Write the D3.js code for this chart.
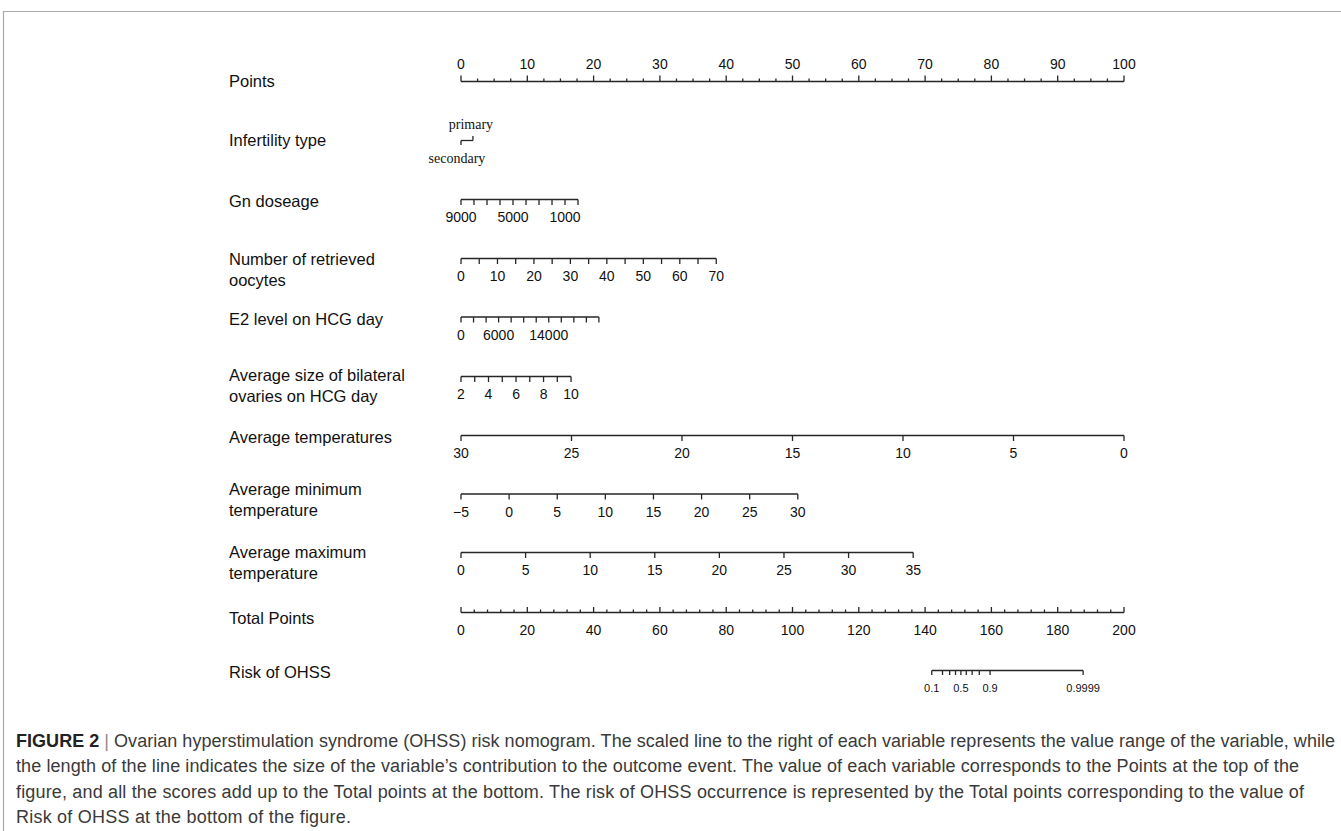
<!DOCTYPE html>
<html>
<head>
<meta charset="utf-8">
<script src="https://cdn.jsdelivr.net/npm/d3@7"></script>
<style>
  html, body { margin: 0; padding: 0; background: #fff; }
  svg { display: block; }
</style>
</head>
<body>
<svg id="chart" width="1341" height="831"></svg>
<script>
// ---- Nomogram data -------------------------------------------------------
const pointsMajor = [0, 10, 20, 30, 40, 50, 60, 70, 80, 90, 100];
const pointsMinorStep = 2.5;

const infertilityLevels = ["secondary", "primary"];
const infertilityPoints = [0, 1.8];

const gnTicks = [9000, 8000, 7000, 6000, 5000, 4000, 3000, 2000, 1000, 0];
const gnLabels = [9000, 5000, 1000];
const gnRange = [9000, 0];
const gnPoints = [0, 17.65];

const oocyteTicks = [0, 5, 10, 15, 20, 25, 30, 35, 40, 45, 50, 55, 60, 65, 70];
const oocyteLabels = [0, 10, 20, 30, 40, 50, 60, 70];
const oocyteRange = [0, 70];
const oocytePoints = [0, 38.5];

const e2Ticks = [0, 2000, 4000, 6000, 8000, 10000, 12000, 14000, 16000, 18000, 20000, 22000];
const e2Labels = [0, 6000, 14000];
const e2Range = [0, 22000];
const e2Points = [0, 20.8];

const ovaryTicks = [2, 3, 4, 5, 6, 7, 8, 9, 10];
const ovaryLabels = [2, 4, 6, 8, 10];
const ovaryRange = [2, 10];
const ovaryPoints = [0, 16.6];

const avgTempTicks = [30, 25, 20, 15, 10, 5, 0];
const avgTempRange = [30, 0];
const avgTempPoints = [0, 100];

const minTempTicks = [-5, 0, 5, 10, 15, 20, 25, 30];
const minTempRange = [-5, 30];
const minTempPoints = [0, 50.8];

const maxTempTicks = [0, 5, 10, 15, 20, 25, 30, 35];
const maxTempRange = [0, 35];
const maxTempPoints = [0, 68.2];

const totalMajor = [0, 20, 40, 60, 80, 100, 120, 140, 160, 180, 200];
const totalMinorStep = 4;

// logistic model: logit(risk) = slope * (total points - midpoint)
const riskTicks = [0.1, 0.2, 0.3, 0.4, 0.5, 0.6, 0.7, 0.8, 0.9, 0.9999];
const riskLabels = [0.1, 0.5, 0.9, 0.9999];
const riskSlope = 0.2498;
const riskMidpoint = 150.8;

const captionFirst = "Ovarian hyperstimulation syndrome (OHSS) risk nomogram. The scaled line to the right of each variable represents the value range of the variable, while";
const captionLines = [
  "the length of the line indicates the size of the variable\u2019s contribution to the outcome event. The value of each variable corresponds to the Points at the top of the",
  "figure, and all the scores add up to the Total points at the bottom. The risk of OHSS occurrence is represented by the Total points corresponding to the value of",
  "Risk of OHSS at the bottom of the figure."
];
// widths of the caption lines
const captionWidths = [1319, 1283, 1288, 335];

// ---- Layout ----------------------------------------------------------------
const svg = d3.select("#chart");
const X0 = 461, X1 = 1124;
const xPoints = d3.scaleLinear().domain([0, 100]).range([X0, X1]);
const xTotal = d3.scaleLinear().domain([0, 200]).range([X0, X1]);

const INK = "#262626";
const sans = "'Liberation Sans', Arial, Helvetica, sans-serif";
const serif = "'Liberation Serif', 'Times New Roman', serif";

// frame
svg.append("path")
  .attr("d", "M3.5,831 V11.5 H1341")
  .attr("fill", "none").attr("stroke", "#a9a9a9").attr("stroke-width", 1.2);

// variable names on the left
const rowLabels = [
  { y: 81, lines: ["Points"] },
  { y: 140, lines: ["Infertility type"] },
  { y: 201, lines: ["Gn doseage"] },
  { y: 259, lines: ["Number of retrieved", "oocytes"] },
  { y: 319, lines: ["E2 level on HCG day"] },
  { y: 375, lines: ["Average size of bilateral", "ovaries on HCG day"] },
  { y: 437, lines: ["Average temperatures"] },
  { y: 489, lines: ["Average minimum", "temperature"] },
  { y: 552, lines: ["Average maximum", "temperature"] },
  { y: 618, lines: ["Total Points"] },
  { y: 672, lines: ["Risk of OHSS"] }
];
rowLabels.forEach(r => {
  r.lines.forEach((t, i) => {
    svg.append("text")
      .attr("x", 229).attr("y", r.y + i * 21 + 6)
      .attr("font-family", sans).attr("font-size", 16.5).attr("fill", "#111")
      .text(t);
  });
});

function hline(g, xa, xb, y) {
  g.append("line").attr("x1", xa).attr("x2", xb).attr("y1", y).attr("y2", y)
    .attr("stroke", INK).attr("stroke-width", 1.3);
}
function tick(g, x, y, len) {
  g.append("line").attr("x1", x).attr("x2", x).attr("y1", y).attr("y2", y + len)
    .attr("stroke", INK).attr("stroke-width", 1.3);
}
function label(g, x, y, txt, size) {
  g.append("text").attr("x", x).attr("y", y).attr("text-anchor", "middle")
    .attr("font-family", sans).attr("font-size", size || 14).attr("fill", "#111")
    .text(txt);
}
const fmt = v => (v < 0 ? "\u2212" + Math.abs(v) : String(v));

// top Points scale (ticks point upward, labels above)
{
  const g = svg.append("g");
  const y = 81.5;
  hline(g, xPoints(0), xPoints(100), y);
  d3.range(0, 100 + 1e-9, pointsMinorStep).forEach(v => {
    const major = pointsMajor.includes(v);
    tick(g, xPoints(v), y, major ? -6 : -3);
  });
  pointsMajor.forEach(v => label(g, xPoints(v), y - 12.5, fmt(v)));
}

// Infertility type (two categories, labels alternating above / below)
{
  const g = svg.append("g");
  const y = 140.5;
  const xs = infertilityPoints.map(p => xPoints(p));
  hline(g, d3.min(xs), d3.max(xs), y);
  infertilityLevels.forEach((lev, i) => {
    const above = lev === "primary";
    tick(g, xs[i], y, above ? -4.5 : 4.5);
    g.append("text")
      .attr("x", xs[i] - (above ? 2 : 4)).attr("y", above ? y - 12 : y + 22)
      .attr("text-anchor", "middle")
      .attr("font-family", serif).attr("font-size", 14).attr("fill", "#111")
      .text(lev);
  });
}

// continuous predictors (ticks hanging down, labels below)
function predictor(y, ticks, labels, range, pts, labelFmt) {
  const s = d3.scaleLinear().domain(range).range(pts);
  const g = svg.append("g");
  const xs = ticks.map(v => xPoints(s(v)));
  hline(g, d3.min(xs), d3.max(xs), y);
  ticks.forEach(v => tick(g, xPoints(s(v)), y, 5.5));
  labels.forEach(v => label(g, xPoints(s(v)), y + 22.5, (labelFmt || fmt)(v)));
}
predictor(199.5, gnTicks, gnLabels, gnRange, gnPoints);
predictor(258.5, oocyteTicks, oocyteLabels, oocyteRange, oocytePoints);
predictor(317, e2Ticks, e2Labels, e2Range, e2Points);
predictor(376.5, ovaryTicks, ovaryLabels, ovaryRange, ovaryPoints);
predictor(435.5, avgTempTicks, avgTempTicks, avgTempRange, avgTempPoints);
predictor(494, minTempTicks, minTempTicks, minTempRange, minTempPoints);
predictor(552.5, maxTempTicks, maxTempTicks, maxTempRange, maxTempPoints);

// Total Points scale
{
  const g = svg.append("g");
  const y = 612.5;
  hline(g, xTotal(0), xTotal(200), y);
  d3.range(0, 200 + 1e-9, totalMinorStep).forEach(v => {
    const major = totalMajor.includes(v);
    tick(g, xTotal(v), y, major ? -5.5 : -3);
  });
  totalMajor.forEach(v => label(g, xTotal(v), y + 22.5, fmt(v)));
}

// Risk of OHSS scale, placed on the Total Points axis via the logistic model
{
  const g = svg.append("g");
  const y = 670.5;
  const logit = p => Math.log(p / (1 - p));
  const tp = p => riskMidpoint + logit(p) / riskSlope;
  const xs = riskTicks.map(p => xTotal(tp(p)));
  hline(g, d3.min(xs), d3.max(xs), y);
  riskTicks.forEach(p => tick(g, xTotal(tp(p)), y, 4.5));
  riskLabels.forEach(p => label(g, xTotal(tp(p)), y + 21.5, String(p), 11));
}

// ---- Caption ---------------------------------------------------------------
{
  const capSize = 18;
  const t = svg.append("text")
    .attr("x", 16).attr("y", 747)
    .attr("font-family", sans).attr("font-size", capSize).attr("fill", "#3a3a3a")
    .attr("textLength", captionWidths[0]).attr("lengthAdjust", "spacing");
  t.append("tspan").attr("font-weight", "bold").attr("fill", "#222").text("FIGURE 2");
  t.append("tspan").attr("fill", "#8a8a8a").text(" | ");
  t.append("tspan").text(captionFirst);
  captionLines.forEach((line, i) => {
    svg.append("text")
      .attr("x", 16).attr("y", 747 + (i + 1) * 25.3)
      .attr("font-family", sans).attr("font-size", capSize).attr("fill", "#3a3a3a")
      .attr("textLength", captionWidths[i + 1]).attr("lengthAdjust", "spacing")
      .text(line);
  });
}
</script>
</body>
</html>
